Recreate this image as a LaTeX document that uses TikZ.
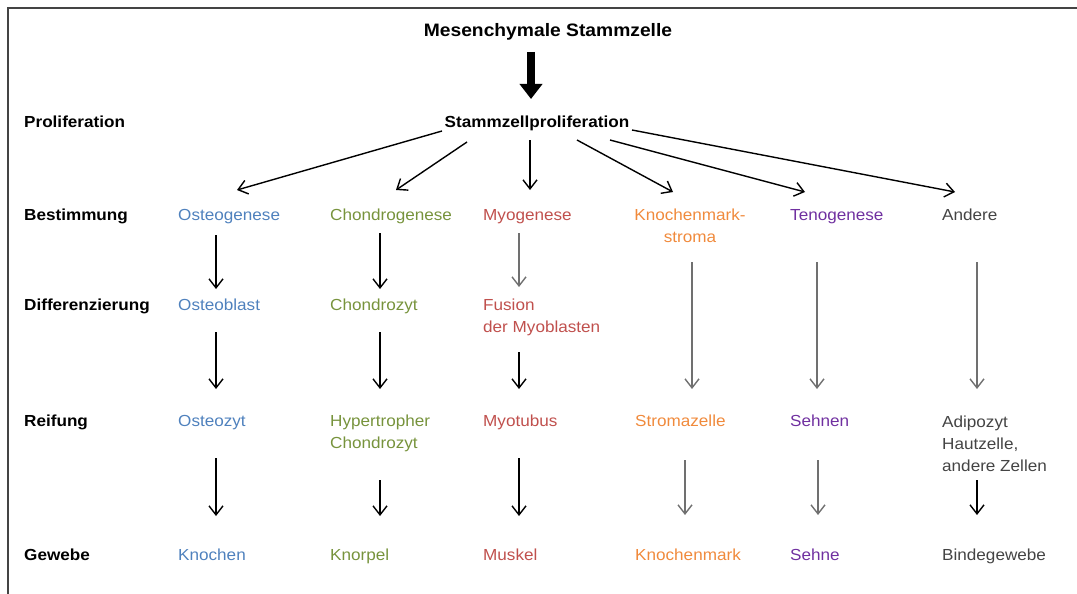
\documentclass[tikz,border=0pt]{standalone}
\usepackage{fontspec}
\setmainfont[FakeStretch=1.07]{Liberation Sans}
\usetikzlibrary{arrows.meta}
\definecolor{cblue}{HTML}{4F81BD}
\definecolor{cgreen}{HTML}{77933C}
\definecolor{cred}{HTML}{C0504D}
\definecolor{corange}{HTML}{F08A3C}
\definecolor{cpurple}{HTML}{7030A0}
\definecolor{cgray}{HTML}{444444}
\definecolor{agray}{HTML}{707070}
\begin{document}
\begin{tikzpicture}[x=1pt,y=-1pt,
  font=\fontsize{16}{22}\selectfont,
  txt/.style={inner sep=0pt, anchor=base west, align=left},
  lab/.style={txt, font=\fontsize{16}{22}\selectfont\bfseries},
  arr/.style={line width=1.4pt, -{Straight Barb[length=9pt,width=14pt]}},
  garr/.style={arr, draw=agray},
  thick arrow/.style={line width=8pt, -{Triangle[length=15pt,width=22pt]}}]
\useasboundingbox (0,0) rectangle (1077,594);
% frame
\draw[line width=2pt, cgray] (8,594) -- (8,8) -- (1077,8);
% title
\node[lab, anchor=base, font=\fontsize{18}{22}\selectfont\bfseries] (msc) at (548,37) {Mesenchymale Stammzelle};
\node[lab, anchor=base] (szp) at (537,128) {Stammzellproliferation};
\coordinate (ta) at (531,52);
\coordinate (tb) at (531,99);
\draw[thick arrow] (ta) -- (tb);
% row labels
\node[lab] (lP) at (24,128) {Proliferation};
\node[lab] (lB) at (24,220) {Bestimmung};
\node[lab] (lD) at (24,310) {Differenzierung};
\node[lab] (lR) at (24,426) {Reifung};
\node[lab] (lG) at (24,560) {Gewebe};
% column 1
\node[txt, cblue] (o1) at (178,220) {Osteogenese};
\node[txt, cblue] (o2) at (178,310) {Osteoblast};
\node[txt, cblue] (o3) at (178,426) {Osteozyt};
\node[txt, cblue] (o4) at (178,560) {Knochen};
% column 2 (multi-line nodes: base = last line)
\node[txt, cgreen] (c1) at (330,220) {Chondrogenese};
\node[txt, cgreen] (c2) at (330,310) {Chondrozyt};
\node[txt, cgreen] (c3) at (330,448) {Hypertropher\\Chondrozyt};
\node[txt, cgreen] (c4) at (330,560) {Knorpel};
% column 3
\node[txt, cred] (m1) at (483,220) {Myogenese};
\node[txt, cred] (m2) at (483,332) {Fusion\\der Myoblasten};
\node[txt, cred] (m3) at (483,426) {Myotubus};
\node[txt, cred] (m4) at (483,560) {Muskel};
% column 4
\node[txt, corange, anchor=base, align=center] (k1) at (690,242) {Knochenmark-\\stroma};
\node[txt, corange] (k3) at (635,426) {Stromazelle};
\node[txt, corange] (k4) at (635,560) {Knochenmark};
% column 5
\node[txt, cpurple] (t1) at (790,220) {Tenogenese};
\node[txt, cpurple] (t3) at (790,426) {Sehnen};
\node[txt, cpurple] (t4) at (790,560) {Sehne};
% column 6
\node[txt, cgray] (a1) at (942,220) {Andere};
\node[txt, cgray] (a3) at (942,471) {Adipozyt\\Hautzelle,\\andere Zellen};
\node[txt, cgray] (a4) at (942,560) {Bindegewebe};
% fan arrow end points
\coordinate (f1s) at (442,131); \coordinate (f1e) at (237,190);
\coordinate (f2s) at (467,142); \coordinate (f2e) at (396,190);
\coordinate (f3s) at (530,140); \coordinate (f3e) at (530,190);
\coordinate (f4s) at (577,140); \coordinate (f4e) at (673,192);
\coordinate (f5s) at (610,140); \coordinate (f5e) at (805,192);
\coordinate (f6s) at (632,130); \coordinate (f6e) at (955,192);
\foreach \i in {1,...,6} \draw[arr] (f\i s) -- (f\i e);
% vertical arrows
\coordinate (o12s) at (216,235); \coordinate (o12e) at (216,289);
\coordinate (o23s) at (216,332); \coordinate (o23e) at (216,389);
\coordinate (o34s) at (216,458); \coordinate (o34e) at (216,516);
\coordinate (c12s) at (380,233); \coordinate (c12e) at (380,289);
\coordinate (c23s) at (380,332); \coordinate (c23e) at (380,389);
\coordinate (c34s) at (380,480); \coordinate (c34e) at (380,516);
\coordinate (m12s) at (519,233); \coordinate (m12e) at (519,287);
\coordinate (m23s) at (519,352); \coordinate (m23e) at (519,389);
\coordinate (m34s) at (519,458); \coordinate (m34e) at (519,516);
\coordinate (k13s) at (692,262); \coordinate (k13e) at (692,389);
\coordinate (k34s) at (685,460); \coordinate (k34e) at (685,515);
\coordinate (t13s) at (817,262); \coordinate (t13e) at (817,389);
\coordinate (t34s) at (818,460); \coordinate (t34e) at (818,515);
\coordinate (a13s) at (977,262); \coordinate (a13e) at (977,389);
\coordinate (a34s) at (977,480); \coordinate (a34e) at (977,515);
\foreach \p in {o12,o23,o34,c12,c23,c34,m23,m34} \draw[arr] (\p s) -- (\p e);
\foreach \p in {m12,k13,k34,t13,t34,a13} \draw[garr] (\p s) -- (\p e);
\draw[arr] (a34s) -- (a34e);
\end{tikzpicture}
\end{document}
